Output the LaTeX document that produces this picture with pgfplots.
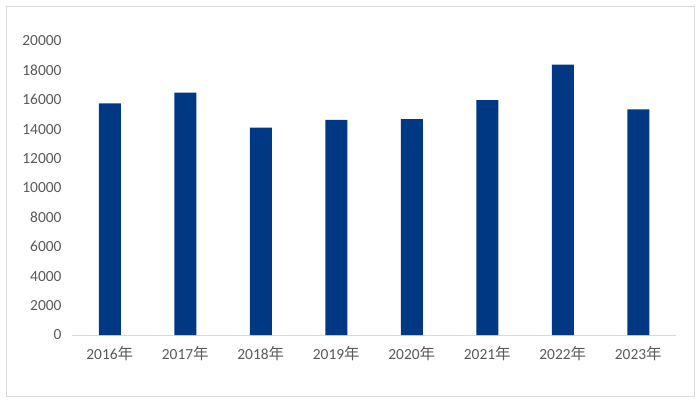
\documentclass[border=0pt]{standalone}
\usepackage{fontspec}
\setmainfont{Carlito}
\newfontfamily\cjk{Noto Sans CJK SC}
\usepackage{pgfplots}
\pgfplotsset{compat=1.18}
\definecolor{barblue}{RGB}{0,56,132}
\definecolor{ticktext}{RGB}{89,89,89}
\definecolor{axisgray}{RGB}{217,217,217}
\begin{document}
\begin{tikzpicture}[x=1bp,y=1bp]
\path[use as bounding box] (0,0) rectangle (700,402);
\draw[axisgray, line width=0.8bp] (6,6) rectangle (694,396);
\begin{axis}[
  at={(72bp,67bp)}, anchor=south west,
  scale only axis, width=604bp, height=294bp,
  xmin=-0.5, xmax=7.5, ymin=0, ymax=20000,
  xtick={0,...,7},
  xticklabels={2016{\cjk 年},2017{\cjk 年},2018{\cjk 年},2019{\cjk 年},2020{\cjk 年},2021{\cjk 年},2022{\cjk 年},2023{\cjk 年}},
  ytick={0,2000,...,20000},
  scaled y ticks=false,
  axis x line*=bottom, axis y line*=left,
  x axis line style={axisgray, line width=0.8bp, -},
  y axis line style={draw=none},
  major tick length=0pt,
  tick label style={font=\fontsize{15.5}{18}\selectfont, text=ticktext},
  /pgf/number format/assume math mode=true,
  /pgf/number format/1000 sep={},
  yticklabel style={xshift=-7bp},
  xticklabel style={yshift=-8bp},
  ybar, bar width=22bp,
  clip=false,
]
\addplot[fill=barblue, draw=none] coordinates {
(0,15760) (1,16480) (2,14100) (3,14630) (4,14690) (5,15970) (6,18390) (7,15350)};
\end{axis}
\end{tikzpicture}
\end{document}
